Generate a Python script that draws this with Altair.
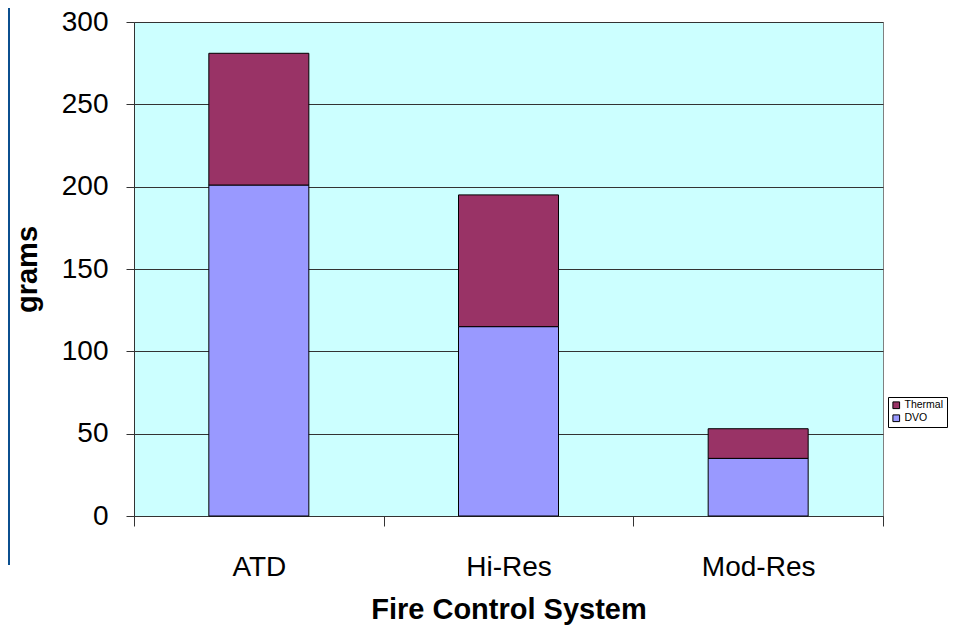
import altair as alt
import pandas as pd

systems = ["ATD", "Hi-Res", "Mod-Res"]
dvo = [201, 115, 35]
thermal = [80, 80, 18]
series = ["Thermal", "DVO"]
colors = ["#993366", "#9999FF"]

rows = []
for s, d, t in zip(systems, dvo, thermal):
    rows.append({"system": s, "series": "DVO", "grams": d, "ord": 0})
    rows.append({"system": s, "series": "Thermal", "grams": t, "ord": 1})
df = pd.DataFrame(rows)

FONT = "Liberation Sans"

bars = alt.Chart(df).mark_bar(stroke="black", strokeWidth=1, width=100).encode(
    x=alt.X("system:N", sort=systems,
            scale=alt.Scale(paddingInner=0, paddingOuter=0),
            axis=alt.Axis(title="Fire Control System", labelAngle=0,
                          tickBand="extent", tickSize=10, tickColor="#333333",
                          domainColor="#333333", labelFontSize=28, labelFont=FONT,
                          labelPadding=27, titleFont=FONT, titleFontSize=29,
                          titleFontWeight="bold", titleBaseline="alphabetic", titleY=102,
                          labelColor="black", titleColor="black")),
    y=alt.Y("grams:Q", stack="zero",
            scale=alt.Scale(domain=[0, 300], nice=False),
            axis=alt.Axis(title="grams", values=[0, 50, 100, 150, 200, 250, 300],
                          tickSize=8, tickColor="#333333", domainColor="#333333",
                          gridColor="#333333", gridOpacity=1, gridWidth=1,
                          labelFontSize=28, labelFont=FONT, labelPadding=18,
                          titleFont=FONT, titleFontSize=29, titleFontWeight="bold",
                          titlePadding=19, labelColor="black", titleColor="black")),
    color=alt.Color("series:N",
                    scale=alt.Scale(domain=series, range=colors),
                    legend=alt.Legend(title=None, orient="none", legendX=754, legendY=375,
                                      strokeColor="black", padding=3, symbolType="square",
                                      symbolSize=45, symbolStrokeColor="black",
                                      symbolStrokeWidth=1, labelFont=FONT, labelFontSize=10.5,
                                      labelColor="black", rowPadding=1, symbolOffset=0,
                                      labelOffset=3)),
    order=alt.Order("ord:Q", sort="ascending"),
)

edge = alt.Chart(pd.DataFrame({"a": [0]})).mark_rule(color="#0B4F8F", strokeWidth=2).encode(
    x=alt.value(-125), y=alt.value(-14), y2=alt.value(543)
)

chart = alt.layer(edge, bars).properties(
    width=749, height=494,
    autosize=alt.AutoSizeParams(type="none"),
    padding={"left": 126, "top": 14, "right": 80, "bottom": 110},
).configure_view(fill="#CCFFFF", stroke="#808080", strokeWidth=1)

chart.save("out.html", embed_options={"renderer": "svg", "actions": False})
